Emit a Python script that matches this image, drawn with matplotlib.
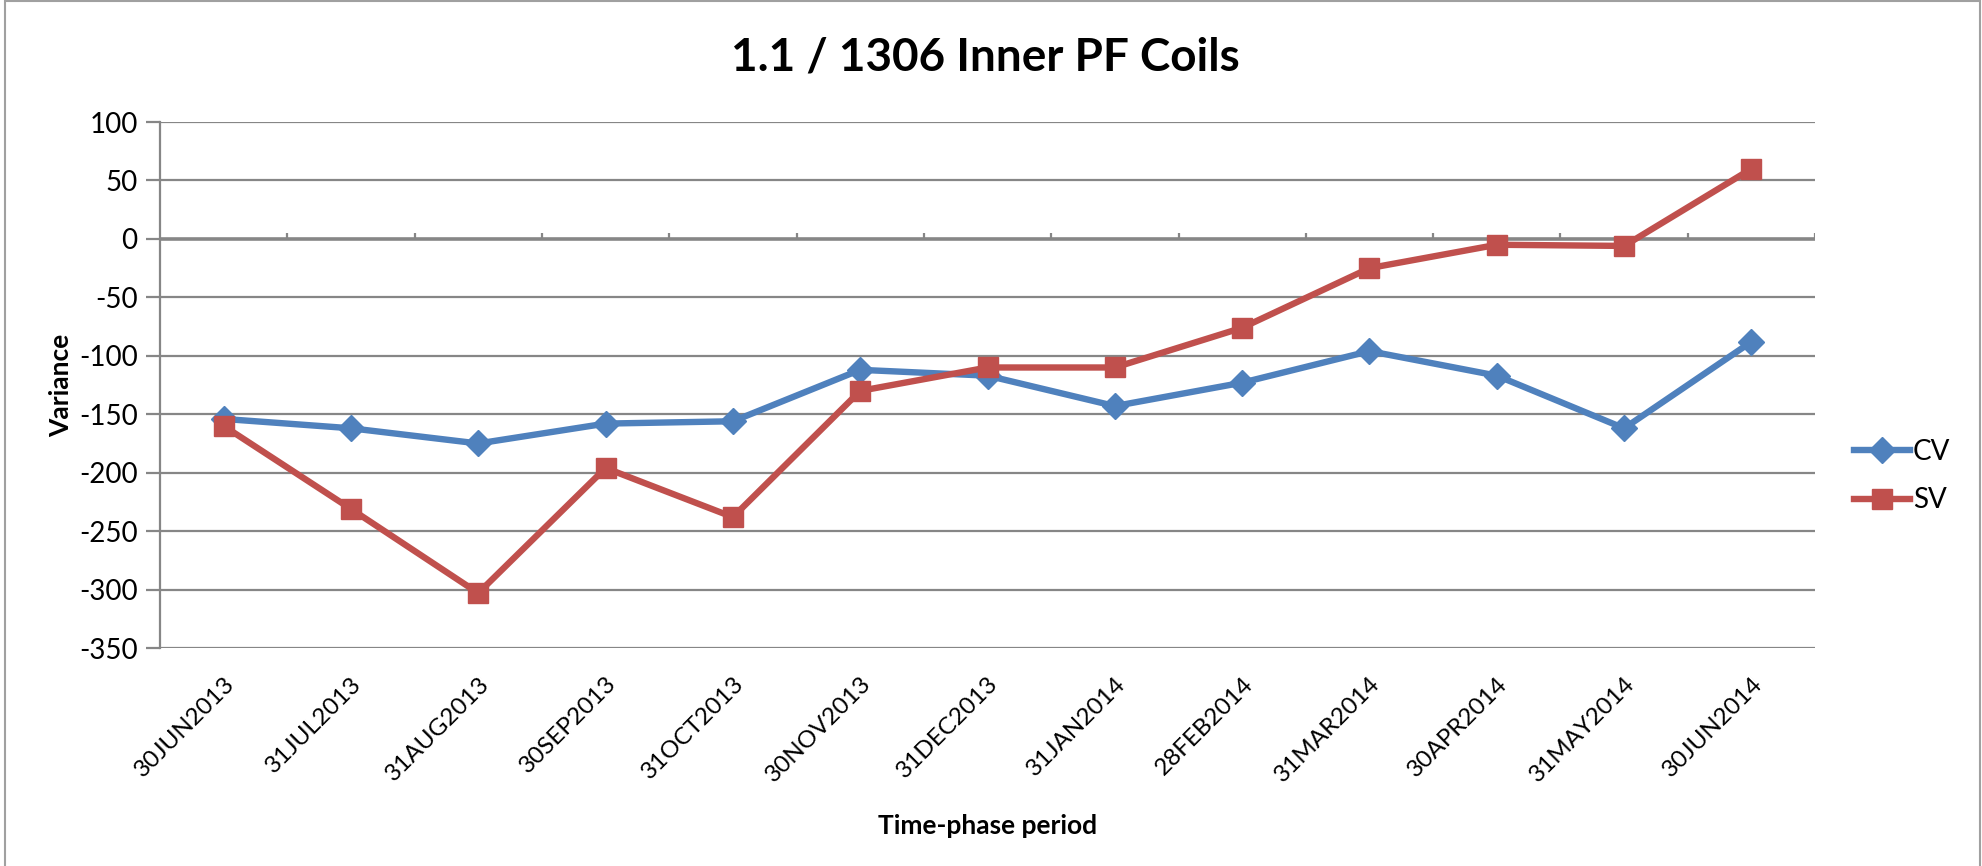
import matplotlib
matplotlib.use("Agg")
import matplotlib.pyplot as plt
from matplotlib.lines import Line2D
from matplotlib.patches import Rectangle
import numpy as np

categories = ["30JUN2013", "31JUL2013", "31AUG2013", "30SEP2013", "31OCT2013",
              "30NOV2013", "31DEC2013", "31JAN2014", "28FEB2014", "31MAR2014",
              "30APR2014", "31MAY2014", "30JUN2014"]
cv_values = [-154, -162, -175, -158, -156, -112, -117, -143, -123, -96, -117, -162, -88]
sv_values = [-160, -231, -303, -196, -238, -130, -110, -110, -76, -25, -5, -6, 60]
y_ticks = [100, 50, 0, -50, -100, -150, -200, -250, -300, -350]

plt.rcParams['font.family'] = ['Lato', 'DejaVu Sans']

BLUE = "#4F81BD"
RED = "#C0504D"
GRID = "#868686"

fig = plt.figure(figsize=(19.82, 8.66), dpi=100)
ax = fig.add_axes([0.0807, 0.2517, 0.9158 - 0.0807, 0.8591 - 0.2517])

x = np.arange(len(categories))
ax.set_xlim(-0.5, len(categories) - 0.5)
ax.set_ylim(min(y_ticks), max(y_ticks))

for yv in y_ticks:
    ax.axhline(yv, color=GRID, lw=1.6 if yv != 0 else 2.6, zorder=1)

# category boundary ticks on the zero line
for b in np.arange(0.5, len(categories) - 0.5 + 1e-9, 1.0):
    ax.plot([b, b], [0, 5], color=GRID, lw=1.6, zorder=1, solid_capstyle='butt')

LW = 4.6
ax.plot(x, cv_values, color=BLUE, lw=LW, marker='D', markersize=13,
        markerfacecolor=BLUE, markeredgecolor=BLUE, zorder=3, label="CV")
ax.plot(x, sv_values, color=RED, lw=LW, marker='s', markersize=15,
        markerfacecolor=RED, markeredgecolor=RED, zorder=3, label="SV")

for s in ["top", "right", "bottom"]:
    ax.spines[s].set_visible(False)
ax.spines["left"].set_color(GRID)
ax.spines["left"].set_linewidth(1.6)

ax.set_yticks(y_ticks)
ax.set_yticklabels([str(v) for v in y_ticks], fontsize=20)
ax.tick_params(axis='y', direction='out', length=10, width=1.6, color=GRID, pad=6)

ax.set_xticks(x)
ax.set_xticklabels(categories, rotation=45, ha='right', rotation_mode='anchor', fontsize=17.5)
ax.tick_params(axis='x', length=0, pad=18)

ax.set_ylabel("Variance", fontsize=19, fontweight='bold', labelpad=4)
ax.set_xlabel("Time-phase period", fontsize=19, fontweight='bold', labelpad=20)

fig.text(0.497, 0.934, "1.1 / 1306 Inner PF Coils", fontsize=33, fontweight='bold',
         ha='center', va='center')

handles = [Line2D([0], [0], color=BLUE, lw=LW, marker='D', markersize=13),
           Line2D([0], [0], color=RED, lw=LW, marker='s', markersize=15)]
fig.legend(handles, ["CV", "SV"], loc='center left', bbox_to_anchor=(0.923, 0.45),
           frameon=False, fontsize=20, handlelength=2.0, handletextpad=0.1,
           labelspacing=0.8)

fig.patches.append(Rectangle((0.0025, -0.01), 0.9965, 1.0085, transform=fig.transFigure,
                             fill=False, edgecolor="#A0A0A0", lw=1.5))

fig.savefig("out.png", dpi=100)
